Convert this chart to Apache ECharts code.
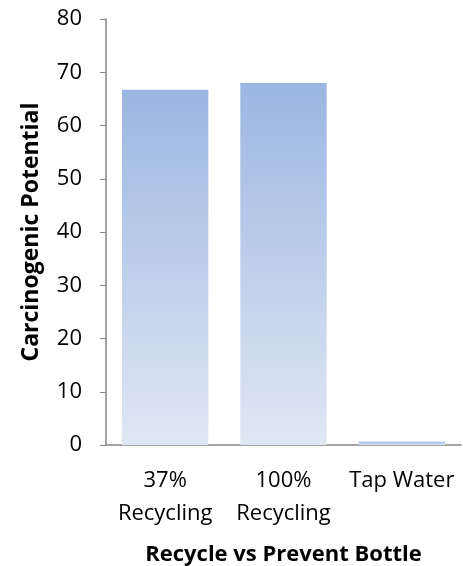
<!DOCTYPE html>
<html>
<head>
<meta charset="utf-8">
<script src="https://cdn.jsdelivr.net/npm/echarts@6/dist/echarts.min.js"></script>
<style>
  html, body { margin: 0; padding: 0; background: #fff; }
  #chart { width: 463px; height: 566px; }
</style>
</head>
<body>
<div id="chart"></div>
<script>
// Carcinogenic potential per bottle scenario
const categories = ['37%\nRecycling', '100%\nRecycling', 'Tap Water'];
const values = [66.7, 68.0, 0.6];
const yTicks = { min: 0, max: 80, interval: 10 };

const FONT = '"Open Sans", Lato, sans-serif';
const chart = echarts.init(document.getElementById('chart'), null, { renderer: 'canvas' });

chart.setOption({
  animation: false,
  grid: { left: 106, right: 2, top: 19, bottom: 121, containLabel: false, outerBoundsMode: 'none' },
  xAxis: {
    type: 'category',
    data: categories,
    name: 'Recycle vs Prevent Bottle',
    nameLocation: 'middle',
    nameGap: 99,
    nameTextStyle: { fontFamily: FONT, fontSize: 22, fontWeight: 'bold', color: '#000' },
    axisLine: { lineStyle: { color: '#868686', width: 1.5 } },
    axisTick: { show: false },
    axisLabel: { fontFamily: FONT, fontSize: 22, color: '#000', margin: 19, lineHeight: 33, interval: 0 }
  },
  yAxis: {
    type: 'value',
    min: yTicks.min,
    max: yTicks.max,
    interval: yTicks.interval,
    name: 'Carcinogenic Potential',
    nameLocation: 'middle',
    nameGap: 63,
    nameTextStyle: { fontFamily: FONT, fontSize: 23, fontWeight: 'bold', color: '#000' },
    axisLine: { show: true, lineStyle: { color: '#868686', width: 1.5 } },
    axisTick: { show: true, inside: false, length: 6, lineStyle: { color: '#868686' } },
    splitLine: { show: false },
    axisLabel: { fontFamily: FONT, fontSize: 22, color: '#000', margin: 24 }
  },
  series: [{
    type: 'bar',
    data: values,
    barCategoryGap: '27%',
    itemStyle: {
      color: new echarts.graphic.LinearGradient(0, 0, 0, 1, [
        { offset: 0, color: '#9bb6e2' },
        { offset: 1, color: '#e0e7f4' }
      ])
    }
  }]
});
</script>
</body>
</html>
